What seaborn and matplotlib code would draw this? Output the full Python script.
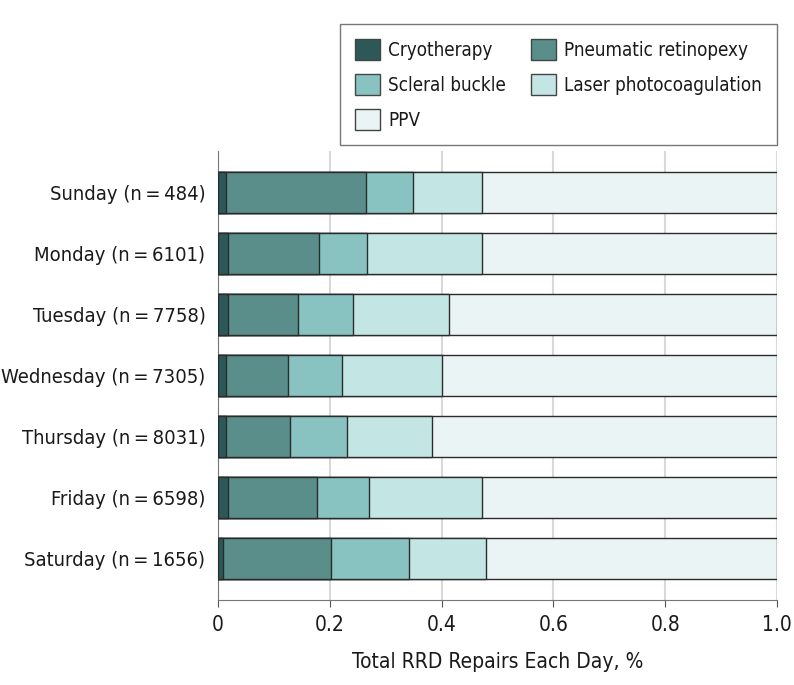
import matplotlib
matplotlib.use("Agg")
import matplotlib.pyplot as plt
import matplotlib.patches as mpatches
import numpy as np
import pandas as pd
import seaborn as sns

days = ["Sunday (n\u2009=\u2009484)", "Monday (n\u2009=\u20096101)", "Tuesday (n\u2009=\u20097758)",
        "Wednesday (n\u2009=\u20097305)", "Thursday (n\u2009=\u20098031)", "Friday (n\u2009=\u20096598)",
        "Saturday (n\u2009=\u20091656)"]
methods = ["Cryotherapy", "Pneumatic retinopexy", "Scleral buckle", "Laser photocoagulation", "PPV"]
cryo = [0.014, 0.017, 0.017, 0.014, 0.014, 0.017, 0.009]
pneumatic = [0.250, 0.164, 0.127, 0.111, 0.114, 0.160, 0.194]
scleral = [0.085, 0.086, 0.097, 0.097, 0.102, 0.094, 0.139]
laser = [0.124, 0.206, 0.172, 0.179, 0.153, 0.202, 0.138]
ppv = [0.527, 0.527, 0.587, 0.599, 0.617, 0.527, 0.520]
colors = ["#2d5858", "#5a8e8b", "#88c3c2", "#c3e6e5", "#eaf4f4"]

sns.set_style("white")
plt.rcParams["font.family"] = ["DejaVu Sans"]
plt.rcParams["font.stretch"] = "condensed"
plt.rcParams["text.color"] = "#1a1a1a"
plt.rcParams["xtick.color"] = "#1a1a1a"
plt.rcParams["ytick.color"] = "#1a1a1a"
plt.rcParams["axes.labelcolor"] = "#1a1a1a"

df = pd.DataFrame({"Day": days, methods[0]: cryo, methods[1]: pneumatic,
                   methods[2]: scleral, methods[3]: laser, methods[4]: ppv})
cum = df[methods].cumsum(axis=1)

fig = plt.figure(figsize=(7.94, 6.85), dpi=100)
ax = fig.add_axes([218 / 794, 1 - 600 / 685, (777 - 218) / 794, 449 / 685])

# stacked bars: draw cumulative totals from the longest to the shortest
for m, c in reversed(list(zip(methods, colors))):
    sns.barplot(x=cum[m], y=df["Day"], color=c, orient="h", width=0.67,
                edgecolor="#2b2b2b", linewidth=1.0, saturation=1, ax=ax, zorder=3)

ax.set_xlim(0, 1.0)
ax.set_ylim(6.68, -0.68)
ax.set_xticks([0, 0.2, 0.4, 0.6, 0.8, 1.0])
ax.set_xticklabels(["0", "0.2", "0.4", "0.6", "0.8", "1.0"])
ax.xaxis.grid(True, color="#d9d9d9", linewidth=1.5, zorder=0)
ax.set_axisbelow(True)
for s in ["top", "right"]:
    ax.spines[s].set_visible(False)
ax.spines["left"].set_color("#777777")
ax.spines["bottom"].set_color("#777777")
ax.tick_params(axis="x", bottom=True, length=5, color="#555555", labelsize=15, pad=6)
ax.tick_params(axis="y", left=False, length=0, labelsize=14.5, pad=9)
ax.set_ylabel("")
ax.set_xlabel("Total RRD Repairs Each Day, %", fontsize=15, labelpad=12)

handles = [mpatches.Patch(facecolor=c, edgecolor="#444444", label=m) for m, c in zip(methods, colors)]
order = [0, 2, 4, 1, 3]
fig.legend([handles[i] for i in order], [methods[i] for i in order], ncol=2,
           loc="upper right", bbox_to_anchor=(777 / 794, 1 - 24 / 685), borderaxespad=0,
           fontsize=13.5, frameon=True, fancybox=False, edgecolor="#555555",
           handlelength=1.35, handleheight=1.35, handletextpad=0.45,
           labelspacing=0.75, columnspacing=1.3, borderpad=0.8)

fig.savefig("out.png", dpi=100)
